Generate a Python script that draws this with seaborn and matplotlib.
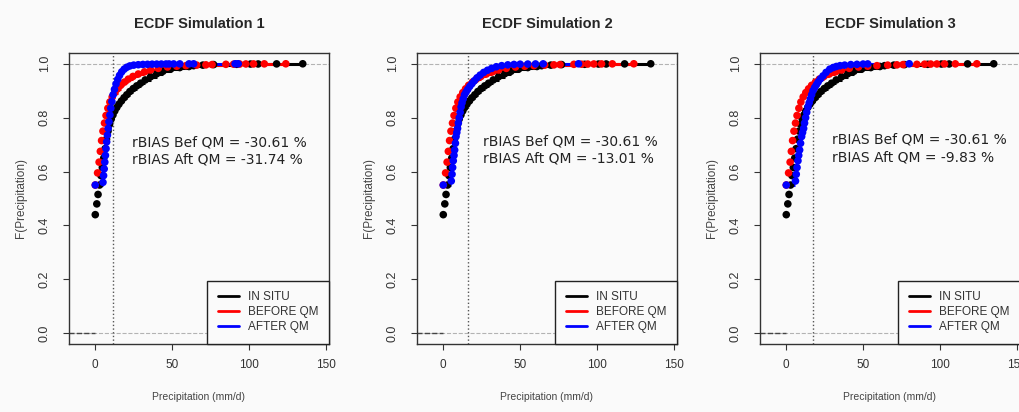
import numpy as np
import pandas as pd
import matplotlib
matplotlib.use("Agg")
import matplotlib.pyplot as plt
import seaborn as sns
from matplotlib.lines import Line2D

# ECDF knots: precipitation (mm/d) and F(precipitation)
insitu_x = [0, 1, 1.8, 2.8, 3.7, 4.6, 5.5, 6.4, 7.3, 8.3, 9.3, 10.4, 11.5, 12.7, 14, 15.4,
            17, 18.7, 20.5, 22.5, 24.7, 27, 29.5, 32.5, 36, 40, 44, 49, 55, 61, 64, 70,
            77, 92, 101, 106, 118, 135]
insitu_f = [0.44, 0.48, 0.515, 0.55, 0.585, 0.615, 0.65, 0.685, 0.72, 0.75, 0.775, 0.795,
            0.81, 0.825, 0.838, 0.85, 0.862, 0.874, 0.885, 0.897, 0.908, 0.918, 0.928,
            0.94, 0.952, 0.963, 0.972, 0.98, 0.986, 0.99, 0.993, 0.995, 0.997, 0.998,
            0.999, 0.9993, 0.9996, 1.0]

before_x = [0, 1.5, 2.5, 3.3, 4.1, 5, 6, 7, 8.2, 9.5, 11, 12.7, 14.5, 16.5, 19, 21.5,
            24.5, 28, 32, 36, 41, 47, 53, 59, 66, 72, 76, 85, 90, 94, 98, 103, 110, 124]
before_f = [0.55, 0.595, 0.635, 0.675, 0.715, 0.75, 0.78, 0.808, 0.835, 0.858, 0.877,
            0.893, 0.907, 0.92, 0.932, 0.943, 0.953, 0.962, 0.97, 0.977, 0.983, 0.988,
            0.991, 0.993, 0.995, 0.996, 0.997, 0.998, 0.9985, 0.999, 0.9993, 0.9995,
            0.9997, 1.0]

after1_x = [0, 5, 5.4, 5.8, 6.2, 6.6, 7.0, 7.4, 7.9, 8.4, 8.9, 9.5, 10.1, 10.8, 11.6,
            12.5, 13.5, 14.6, 15.8, 17.2, 18.8, 20.5, 22.5, 25, 28, 31, 34, 37, 40, 43,
            46, 48, 51, 55, 61, 64, 91, 93]
after1_f = [0.55, 0.56, 0.585, 0.61, 0.635, 0.66, 0.685, 0.71, 0.735, 0.76, 0.785, 0.81,
            0.835, 0.86, 0.885, 0.905, 0.925, 0.942, 0.957, 0.97, 0.98, 0.987, 0.992,
            0.995, 0.9965, 0.9975, 0.998, 0.9985, 0.9988, 0.999, 0.9992, 0.9994, 0.9995,
            0.9996, 0.9997, 0.9998, 0.9999, 1.0]

after2_x = [0, 5.2, 5.7, 6.1, 6.5, 7.0, 7.4, 7.9, 8.3, 8.8, 9.3, 9.8, 10.4, 11.0, 11.6,
            12.2, 13.0, 13.8, 14.8, 15.9, 17.2, 18.6, 20.2, 22.0, 24.0, 26.3, 28.8, 31.5,
            34.5, 38, 42, 46, 50, 55, 60, 65, 88]
after2_f = [0.55, 0.565, 0.59, 0.615, 0.64, 0.66, 0.68, 0.705, 0.73, 0.745, 0.76, 0.78,
            0.80, 0.82, 0.84, 0.855, 0.87, 0.885, 0.895, 0.905, 0.916, 0.926, 0.937,
            0.948, 0.958, 0.968, 0.976, 0.983, 0.989, 0.993, 0.996, 0.9975, 0.9985,
            0.999, 0.9994, 0.9997, 1.0]

after3_x = [0, 6.0, 6.5, 7.0, 7.6, 8.1, 8.7, 9.3, 10.0, 10.6, 11.3, 11.9, 12.6, 13.3,
            14.1, 14.9, 15.7, 16.5, 17.4, 18.5, 19.6, 20.7, 22.2, 23.9, 25.9, 28.3, 30.5,
            32.6, 35, 38, 42, 46, 50, 53, 80]
after3_f = [0.55, 0.565, 0.59, 0.615, 0.64, 0.66, 0.68, 0.705, 0.73, 0.745, 0.76, 0.78,
            0.80, 0.82, 0.84, 0.855, 0.87, 0.885, 0.90, 0.912, 0.922, 0.932, 0.944, 0.955,
            0.968, 0.98, 0.986, 0.99, 0.993, 0.995, 0.997, 0.998, 0.999, 0.9995, 1.0]

titles = ["ECDF Simulation 1", "ECDF Simulation 2", "ECDF Simulation 3"]
rbias_before = [-30.61, -30.61, -30.61]
rbias_after = [-31.74, -13.01, -9.83]
threshold = [11.7, 16.1, 17.4]
series_names = ["IN SITU", "BEFORE QM", "AFTER QM"]
colors = ["black", "red", "blue"]

after_x = [after1_x, after2_x, after3_x]
after_f = [after1_f, after2_f, after3_f]

sns.set_style("white")
plt.rcParams["font.family"] = ["Liberation Sans", "DejaVu Sans"]

bg = "#fafafa"
fig = plt.figure(figsize=(10.2, 4.12), dpi=100, facecolor=bg)

lefts = [69, 417, 760]
text_x = [24, 26, 30]
text_y = [0.677, 0.68, 0.686]
xmin, xmax = -17.1, 152.1

for i in range(3):
    ax = fig.add_axes([lefts[i] / 1020, 68 / 412, 260 / 1020, 291 / 412])
    ax.set_facecolor(bg)

    df = pd.concat([
        pd.DataFrame({"x": insitu_x, "F": insitu_f, "series": "IN SITU"}),
        pd.DataFrame({"x": before_x, "F": before_f, "series": "BEFORE QM"}),
        pd.DataFrame({"x": after_x[i], "F": after_f[i], "series": "AFTER QM"}),
    ], ignore_index=True)

    # reference lines
    ax.axhline(0, color="#b3b3b3", ls="--", lw=0.8, zorder=1)
    ax.axhline(1, color="#b3b3b3", ls="--", lw=0.8, zorder=1)
    ax.hlines(0, xmin, 0, color="#444444", ls="--", lw=1, zorder=2)
    ax.axvline(threshold[i], color="#555555", ls=":", lw=1, zorder=1)

    # step segments of each ECDF
    for name, col in zip(series_names, colors):
        d = df[df["series"] == name]
        ax.hlines(d["F"].values[:-1], d["x"].values[:-1], d["x"].values[1:],
                  color=col, lw=2.2, zorder=2)

    sns.scatterplot(data=df, x="x", y="F", hue="series",
                    palette=dict(zip(series_names, colors)),
                    s=30, linewidth=0, legend=False, ax=ax, zorder=3)

    ax.set_xlim(xmin, xmax)
    ax.set_ylim(-0.04, 1.04)
    ax.set_xticks([0, 50, 100, 150])
    yt = np.arange(0, 1.01, 0.2)
    ax.set_yticks(yt)
    ax.set_yticklabels([f"{v:.1f}" for v in yt], rotation=90, va="center")
    ax.tick_params(axis="both", direction="out", length=4, width=0.8, color="#333333",
                   labelcolor="#333333", bottom=True, left=True)
    ax.tick_params(axis="x", labelsize=8.5, pad=7)
    ax.tick_params(axis="y", labelsize=9, pad=9)
    for sp in ax.spines.values():
        sp.set_visible(True)
        sp.set_color("#333333")
        sp.set_linewidth(1)

    ax.set_title(titles[i], fontsize=10.5, fontweight="bold", pad=18)
    ax.set_xlabel("Precipitation (mm/d)", fontsize=7.5, color="#444444")
    ax.set_ylabel("F(Precipitation)", fontsize=8.5, color="#444444")
    ax.xaxis.set_label_coords(0.5, -0.165)
    ax.yaxis.set_label_coords(-0.16, 0.5)

    ax.text(text_x[i], text_y[i],
            f"rBIAS Bef QM = {rbias_before[i]:.2f} %\nrBIAS Aft QM = {rbias_after[i]:.2f} %",
            family="DejaVu Sans", fontsize=10, ha="left", va="center",
            linespacing=1.3, color="#222222")

    handles = [Line2D([0], [0], color=c, lw=2) for c in colors]
    leg = ax.legend(handles, series_names, loc="lower right", borderaxespad=0,
                    fancybox=False, edgecolor="#222222", framealpha=1, facecolor=bg,
                    fontsize=8.5, handlelength=1.8, handletextpad=0.75,
                    labelspacing=0.25, borderpad=0.9)
    leg.get_frame().set_linewidth(1)
    for t in leg.get_texts():
        t.set_color("#333333")

fig.savefig("out.png", dpi=100, facecolor=bg)
